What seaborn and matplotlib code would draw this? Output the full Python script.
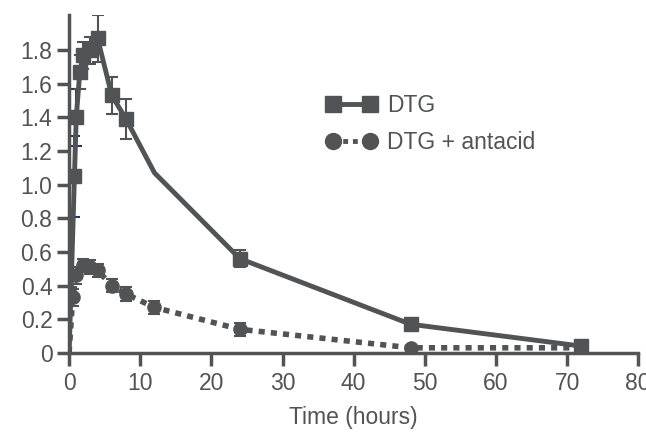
import numpy as np
import matplotlib
matplotlib.use("Agg")
import matplotlib.pyplot as plt
import seaborn as sns

# DTG alone (12 h point drawn without a marker)
dtg_time = [0, 0.75, 1, 1.5, 2, 3, 4, 6, 8, 12, 24, 48, 72]
dtg_conc = [0, 1.05, 1.40, 1.67, 1.77, 1.80, 1.87, 1.53, 1.39, 1.07, 0.56, 0.17, 0.04]
dtg_err = [0, 0.24, 0.17, 0.10, 0.08, 0.08, 0.14, 0.11, 0.12, 0, 0.05, 0.03, 0.02]
dtg_marked = [False, True, True, True, True, True, True, True, True, False, True, True, True]

# DTG + antacid
ant_time = [0, 0.5, 1, 2, 3, 4, 6, 8, 12, 24, 48, 72]
ant_conc = [0, 0.33, 0.46, 0.52, 0.51, 0.49, 0.40, 0.35, 0.27, 0.14, 0.03, 0.03]
ant_err = [0, 0.05, 0.05, 0.04, 0.04, 0.04, 0.04, 0.04, 0.04, 0.04, 0.01, 0.01]

x_ticks = [0, 10, 20, 30, 40, 50, 60, 70, 80]
y_ticks = [0, 0.2, 0.4, 0.6, 0.8, 1.0, 1.2, 1.4, 1.6, 1.8]
y_labels = ["0", "0.2", "0.4", "0.6", "0.8", "1.0", "1.2", "1.4", "1.6", "1.8"]

grey = "#515354"
navy = "#1f3a5f"

sns.set_style("ticks")
plt.rcParams["font.family"] = ["Liberation Sans", "DejaVu Sans"]

fig = plt.figure(figsize=(6.46, 4.34), dpi=100)
ax = fig.add_axes([0.107, 0.187, 0.881, 0.779])

# lines
sns.lineplot(x=ant_time, y=ant_conc, ax=ax, color=grey, lw=4,
             linestyle=(0, (1.1, 1.1)), zorder=2)
sns.lineplot(x=dtg_time, y=dtg_conc, ax=ax, color=grey, lw=3.5, zorder=3)

# error bars
ant_t = np.array(ant_time[1:])
ant_c = np.array(ant_conc[1:])
ax.errorbar(ant_t, ant_c, yerr=ant_err[1:], fmt="none", ecolor=grey,
            elinewidth=1.5, capsize=4, capthick=1.5, zorder=4)
m = np.array(dtg_marked)
t = np.array(dtg_time)[m]
c = np.array(dtg_conc)[m]
e = np.array(dtg_err)[m]
ax.errorbar(t[2:], c[2:], yerr=e[2:], fmt="none", ecolor=grey,
            elinewidth=1.5, capsize=4, capthick=1.5, zorder=4)
ax.errorbar(t[:2], c[:2], yerr=e[:2], fmt="none", ecolor=navy,
            elinewidth=1.5, capsize=4, capthick=1.5, zorder=2.5)

# markers
ax.plot(ant_t, ant_c, "o", color=grey, ms=9.5, zorder=5)
ax.plot(t, c, "s", color=grey, ms=10, zorder=5)

# legend
h1, = ax.plot([], [], "-s", color=grey, lw=3.5, ms=11.5)
h2, = ax.plot([], [], "o", color=grey, lw=3.5, ms=11.5,
              linestyle=(0, (1.0, 1.0)))
leg = ax.legend([h1, h2], ["DTG", "DTG + antacid"], loc="upper left",
                bbox_to_anchor=(0.452, 0.767), frameon=False, numpoints=2,
                handlelength=2.2, handletextpad=0.45, labelspacing=0.65,
                borderpad=0, borderaxespad=0, fontsize=16.5)
for txt in leg.get_texts():
    txt.set_color(grey)

ax.set_xlim(0, 80)
ax.set_ylim(0, 2.01)
ax.set_xticks(x_ticks)
ax.set_xticklabels([str(v) for v in x_ticks])
ax.set_yticks(y_ticks)
ax.set_yticklabels(y_labels)
ax.set_xlabel("Time (hours)", fontsize=16.5, color=grey, labelpad=8)
ax.set_ylabel("")
ax.tick_params(axis="both", labelsize=16.5, colors=grey, length=9, width=2.5,
               direction="out", pad=3)
ax.tick_params(axis="x", pad=5)
for side in ["top", "right"]:
    ax.spines[side].set_visible(False)
for side in ["left", "bottom"]:
    ax.spines[side].set_color(grey)
    ax.spines[side].set_linewidth(2.5)
for lbl in ax.get_xticklabels() + ax.get_yticklabels():
    lbl.set_clip_on(False)

fig.savefig("out.png", dpi=100)
